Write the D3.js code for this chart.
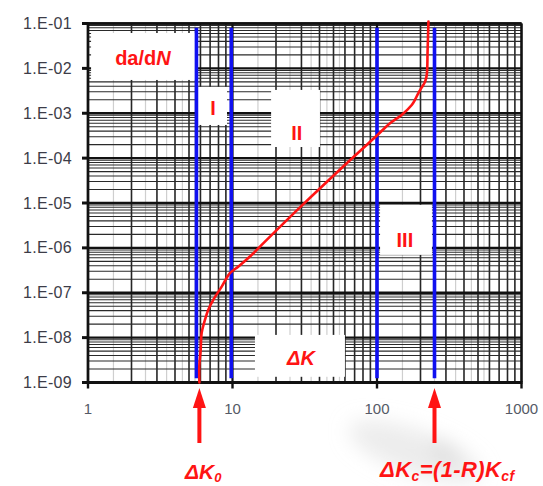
<!DOCTYPE html>
<html>
<head>
<meta charset="utf-8">
<script src="https://cdn.jsdelivr.net/npm/d3@7"></script>
<style>
  html, body { margin: 0; padding: 0; background: #fff; }
  svg { display: block; }
  text { font-family: "Liberation Sans", Arial, sans-serif; }
</style>
</head>
<body>
<svg id="chart" width="543" height="486"></svg>
<script>
// Fatigue crack growth rate curve: da/dN versus stress-intensity range ΔK (log-log)
const deltaK = [5.9, 5.89, 6.02, 6.12, 6.35, 6.8, 7.36, 8.42, 9.6, 11.0, 13.2, 15.5,
                29.3, 65, 101.6, 123, 148, 174, 183, 193, 204, 215, 221, 224, 227];
const dadN   = [1e-9, 2.27e-9, 5.35e-9, 1.28e-8, 2.1e-8, 4.2e-8, 6.95e-8, 1.37e-7, 2.73e-7,
                3.84e-7, 6.4e-7, 1.07e-6, 7.98e-6, 8.97e-5, 3.36e-4, 5.98e-4, 9.17e-4,
                1.53e-3, 1.98e-3, 2.79e-3, 3.76e-3, 5.06e-3, 7.13e-3, 2.57e-2, 1.1e-1];

// Region boundaries (vertical blue lines) and marked thresholds
const regionBounds = [5.63, 9.8, 100, 250];
const thresholdArrows = [5.9, 250];   // ΔK0 and ΔKc

// Axis ticks
const xTicks = [1, 10, 100, 1000];
const xTickLabels = ["1", "10", "100", "1000"];
const yTicks = [1e-1, 1e-2, 1e-3, 1e-4, 1e-5, 1e-6, 1e-7, 1e-8, 1e-9];
const yTickLabels = ["1.E-01", "1.E-02", "1.E-03", "1.E-04", "1.E-05", "1.E-06", "1.E-07", "1.E-08", "1.E-09"];

const svg = d3.select("#chart");
const plotL = 88, plotR = 521.5, plotT = 23.5, plotB = 382.5;

const x = d3.scaleLog().domain([1, 1000]).range([plotL, plotR]);
const y = d3.scaleLog().domain([1e-9, 1e-1]).range([plotB, plotT]);

const RED = "#ff1414";
const BLUE = "#1010f0";

// soft grey smudge in the lower right
const defs = svg.append("defs");
defs.append("filter").attr("id", "smudge").attr("x", "-50%").attr("y", "-50%")
  .attr("width", "200%").attr("height", "200%")
  .append("feGaussianBlur").attr("stdDeviation", 10);
const smudge = svg.append("g").attr("filter", "url(#smudge)");
smudge.append("ellipse").attr("cx", 415).attr("cy", 452).attr("rx", 70).attr("ry", 22)
  .attr("transform", "rotate(20 415 452)").attr("fill", "#dcdcdc").attr("opacity", 0.55);
smudge.append("ellipse").attr("cx", 445).attr("cy", 452).attr("rx", 16).attr("ry", 7)
  .attr("transform", "rotate(30 445 452)").attr("fill", "#c0c0c0").attr("opacity", 0.45);

// log-paper grid
const grid = svg.append("g");
const xMinor = [], xFaint = [];
[1, 10, 100].forEach(d => {
  for (let m = 2; m <= 9; m++) xMinor.push(m * d);
  for (let m = 1; m <= 5; m++) xFaint.push((m + 0.5) * d);
});
const yMinor = [];
[1e-9, 1e-8, 1e-7, 1e-6, 1e-5, 1e-4, 1e-3, 1e-2].forEach(d => {
  for (let m = 2; m <= 9; m++) yMinor.push(m * d);
});

grid.selectAll(".vf").data(xFaint).join("line")
  .attr("x1", d => x(d)).attr("x2", d => x(d)).attr("y1", plotT).attr("y2", plotB)
  .attr("stroke", "#cfcfcf").attr("stroke-width", 1.2);
grid.selectAll(".vm").data(xMinor).join("line")
  .attr("x1", d => x(d)).attr("x2", d => x(d)).attr("y1", plotT).attr("y2", plotB)
  .attr("stroke", "#262626").attr("stroke-width", 1.6);
grid.selectAll(".hm").data(yMinor).join("line")
  .attr("x1", plotL).attr("x2", plotR).attr("y1", d => y(d)).attr("y2", d => y(d))
  .attr("stroke", "#2a2a2a").attr("stroke-width", 1.05);
grid.selectAll(".vM").data(xTicks).join("line")
  .attr("x1", d => x(d)).attr("x2", d => x(d)).attr("y1", plotT).attr("y2", plotB)
  .attr("stroke", "#111").attr("stroke-width", 2.2);
grid.selectAll(".hM").data(yTicks).join("line")
  .attr("x1", plotL).attr("x2", plotR).attr("y1", d => y(d)).attr("y2", d => y(d))
  .attr("stroke", "#111").attr("stroke-width", 2.4);

// white label panels cut into the grid: [ΔK from, ΔK to, da/dN top, da/dN bottom]
const panels = [
  [1.05, 5.5, 6.14e-2, 5.52e-3],
  [5.77, 9.16, 3.86e-3, 5.48e-4],
  [18.5, 40.3, 3.31e-3, 1.77e-4],
  [105, 240, 9.08e-6, 6.98e-7],
  [14.3, 60, 1.15e-8, 1.34e-9]
];
svg.append("g").selectAll("rect").data(panels).join("rect")
  .attr("x", d => x(d[0])).attr("y", d => y(d[2]))
  .attr("width", d => x(d[1]) - x(d[0])).attr("height", d => y(d[3]) - y(d[2]))
  .attr("fill", "#fff");

// frame and axes
const frame = svg.append("g").attr("stroke", "#111").attr("fill", "none");
frame.append("line").attr("x1", plotL).attr("x2", plotL).attr("y1", plotT - 1).attr("y2", plotB + 1).attr("stroke-width", 2.6);
frame.append("line").attr("x1", plotL - 1).attr("x2", plotR + 1).attr("y1", plotB).attr("y2", plotB).attr("stroke-width", 3);
frame.append("line").attr("x1", plotL).attr("x2", plotR).attr("y1", plotT).attr("y2", plotT).attr("stroke-width", 2.4);
frame.append("line").attr("x1", plotR).attr("x2", plotR).attr("y1", plotT).attr("y2", plotB).attr("stroke-width", 2);

// y axis: decade ticks and labels
frame.selectAll(".yt").data(yTicks).join("line")
  .attr("x1", plotL - 6).attr("x2", plotL).attr("y1", d => y(d)).attr("y2", d => y(d))
  .attr("stroke-width", 3);
svg.append("g").selectAll("text").data(yTicks).join("text")
  .attr("x", 72).attr("y", d => y(d) + 5.5)
  .attr("text-anchor", "end").attr("font-size", 16).attr("letter-spacing", 0.3)
  .attr("fill", "#3c3c48")
  .text((d, i) => yTickLabels[i]);

// x axis: decade ticks and labels
frame.selectAll(".xt").data(xTicks).join("line")
  .attr("x1", d => x(d)).attr("x2", d => x(d)).attr("y1", plotB).attr("y2", plotB + 6)
  .attr("stroke-width", 2.4);
svg.append("g").selectAll("text").data(xTicks).join("text")
  .attr("x", d => x(d)).attr("y", 414)
  .attr("text-anchor", "middle").attr("font-size", 15)
  .attr("fill", "#555a66")
  .text((d, i) => xTickLabels[i]);

// region boundaries
svg.append("g").selectAll("line").data(regionBounds).join("line")
  .attr("x1", d => x(d)).attr("x2", d => x(d))
  .attr("y1", y(8e-2)).attr("y2", y(1.25e-9))
  .attr("stroke", BLUE).attr("stroke-width", 3.6);

// crack growth curve
const pts = deltaK.map((k, i) => [k, dadN[i]]);
svg.append("path")
  .datum(pts)
  .attr("d", d3.line().x(d => x(d[0])).y(d => y(d[1])).curve(d3.curveCatmullRom.alpha(0.5)))
  .attr("fill", "none").attr("stroke", RED).attr("stroke-width", 2.6)
  .attr("stroke-linejoin", "round").attr("stroke-linecap", "round");

// threshold arrows below the axis
const arrows = svg.append("g");
thresholdArrows.forEach(k => {
  const cx = x(k);
  arrows.append("line").attr("x1", cx).attr("x2", cx).attr("y1", 405).attr("y2", 443)
    .attr("stroke", RED).attr("stroke-width", 4);
  arrows.append("path")
    .attr("d", `M${cx},388 L${cx + 6.5},408 L${cx - 6.5},408 Z`)
    .attr("fill", RED);
});

// labels
const lab = svg.append("g").attr("fill", RED).attr("font-weight", "bold");
const t1 = lab.append("text").attr("x", x(2.4)).attr("y", y(1.19e-2))
  .attr("text-anchor", "middle").attr("font-size", 20);
t1.append("tspan").text("da/d");
t1.append("tspan").attr("font-style", "italic").text("N");

lab.append("text").attr("x", x(7.33)).attr("y", y(9.2e-4)).attr("text-anchor", "middle")
  .attr("font-size", 20).text("I");
lab.append("text").attr("x", x(27.9)).attr("y", y(2.54e-4)).attr("text-anchor", "middle")
  .attr("font-size", 20).text("II");
lab.append("text").attr("x", x(156)).attr("y", y(1.05e-6)).attr("text-anchor", "middle")
  .attr("font-size", 20).text("III");
lab.append("text").attr("x", x(29.8)).attr("y", y(2.48e-9)).attr("text-anchor", "middle")
  .attr("font-size", 20).attr("font-style", "italic").text("ΔK");

const t0 = lab.append("text").attr("x", 185).attr("y", 479)
  .attr("font-size", 21).attr("font-style", "italic");
t0.append("tspan").text("ΔK");
t0.append("tspan").attr("font-size", 13).attr("dy", 3).text("0");

const tc = lab.append("text").attr("x", 380).attr("y", 477)
  .attr("font-size", 22).attr("font-style", "italic").attr("letter-spacing", 0.4);
tc.append("tspan").text("ΔK");
tc.append("tspan").attr("font-size", 14).attr("dy", 4).text("c");
tc.append("tspan").attr("dy", -4).text("=(1-R)K");
tc.append("tspan").attr("font-size", 14).attr("dy", 4).text("cf");
</script>
</body>
</html>
